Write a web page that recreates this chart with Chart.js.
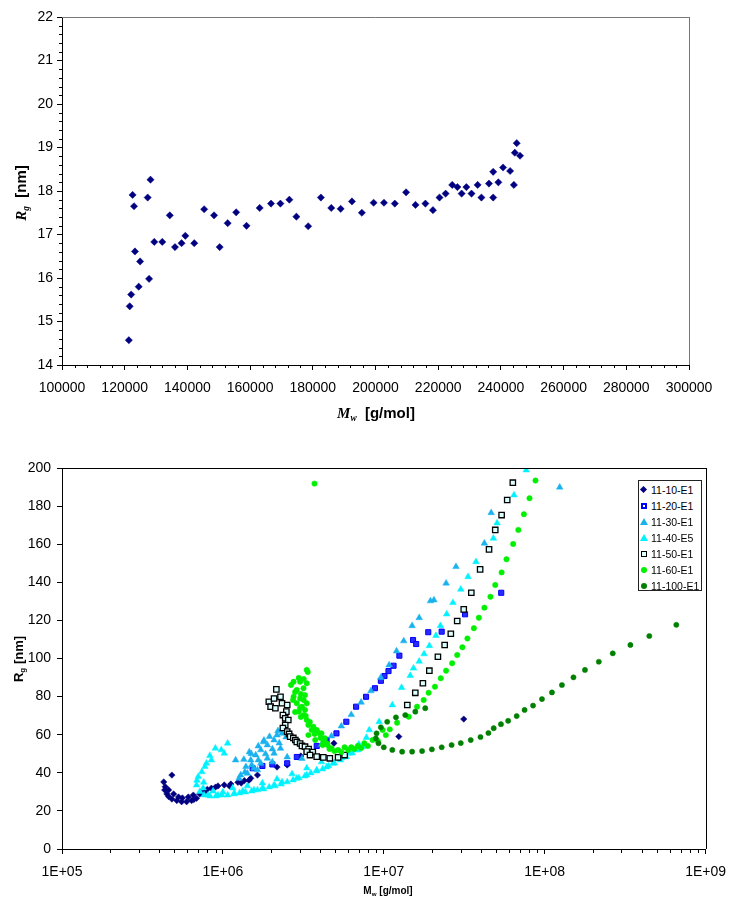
<!DOCTYPE html>
<html>
<head>
<meta charset="utf-8">
<script src="https://cdn.jsdelivr.net/npm/chart.js@4.4.0/dist/chart.umd.min.js"></script>
<style>
  body { margin: 0; background: #fff; }
  #page { position: relative; width: 736px; height: 898px; font-family: 'Liberation Sans', Arial, sans-serif; color: #000; }
  #page canvas { position: absolute; left: 0; }
  .ttl { position: absolute; white-space: nowrap; font-weight: bold; transform: translate(-50%, -50%); }
  .ttl.rot { transform: translate(-50%, -50%) rotate(-90deg); }
  .it { font-family: 'Liberation Serif', 'Times New Roman', serif; font-style: italic; }
  .ttl sub { font-size: 62%; vertical-align: -0.35em; line-height: 0; }
  #legend { position: absolute; left: 638px; top: 480px; width: 64px; height: 111px; box-sizing: border-box;
            border: 1px solid #222; background: #fff; font-size: 10.5px; }
  #legend .row { position: absolute; left: 0; height: 16px; line-height: 16px; padding-left: 12px; white-space: nowrap; }
  #legend .mk { position: absolute; display: block; }
  .dia { left: 2px; top: 5px; width: 5px; height: 5px; background: #000080; transform: rotate(45deg); }
  .sqb { left: 2px; top: 5px; width: 2px; height: 2px; border: 2px solid #0000ff; background: #fff; }
  .tri { left: 1px; top: 4px; width: 0; height: 0; border-left: 4px solid transparent; border-right: 4px solid transparent; }
  .sqo { left: 2px; top: 5px; width: 4px; height: 4px; border: 1.5px solid #000; background: #e0ffff; }
  .dot { left: 2px; top: 5px; width: 6px; height: 6px; border-radius: 50%; }
</style>
</head>
<body>
<div id="page">
  <canvas id="topChart" width="736" height="430" style="top:0"></canvas>
  <canvas id="bottomChart" width="736" height="468" style="top:430px"></canvas>

  <div class="ttl rot" style="left:21px; top:193px; font-size:15px;"><span class="it">R</span><sub class="it">g</sub>&nbsp;&nbsp;[nm]</div>
  <div class="ttl" style="left:376px; top:413px; font-size:15px;"><span class="it">M</span><sub class="it">w</sub>&nbsp;&nbsp;[g/mol]</div>
  <div class="ttl rot" style="left:18px; top:659px; font-size:13px;">R<sub>g</sub> [nm]</div>
  <div class="ttl" style="left:388px; top:890px; font-size:10px;">M<sub>w</sub> [g/mol]</div>

  <div id="legend"></div>
</div>

<script>
// ---- Gráfico superior: Rg frente a Mw ----
const topMw = [121321, 121600, 122070, 122520, 122970, 123270, 124470, 124920, 127330, 127780,
  128230, 129430, 131980, 134380, 136040, 138140, 139340, 142190, 145350, 148500,
  150300, 152850, 155560, 158860, 163060, 166670, 169670, 172520, 174770, 178530,
  182580, 185890, 188890, 192490, 195650, 199400, 202700, 206160, 209760, 212760,
  215920, 218320, 220420, 222370, 224470, 226130, 227480, 228980, 230630, 232580,
  233780, 236190, 237540, 237540, 239190, 240690, 242940, 244140, 244440, 245050, 246100];
const topRg = [14.57, 15.35, 15.62, 17.91, 17.65, 16.61, 15.80, 16.38, 17.85, 15.98,
  18.26, 16.83, 16.83, 17.44, 16.71, 16.80, 16.97, 16.80, 17.58, 17.44,
  16.71, 17.26, 17.51, 17.20, 17.61, 17.71, 17.71, 17.80, 17.41, 17.19,
  17.85, 17.61, 17.59, 17.76, 17.50, 17.73, 17.73, 17.71, 17.97, 17.68,
  17.71, 17.56, 17.85, 17.94, 18.14, 18.09, 17.94, 18.09, 17.94, 18.14,
  17.85, 18.17, 17.85, 18.44, 18.20, 18.54, 18.46, 18.14, 18.88, 19.10, 18.81];
const topXTicks = [100000, 120000, 140000, 160000, 180000, 200000, 220000, 240000, 260000, 280000, 300000];
const topYTicks = [14, 15, 16, 17, 18, 19, 20, 21, 22];

// ---- Gráfico inferior: series [Mw, Rg] ----
const s11_10 = [[4.82e5,38.8],[4.29e5,35.2],[4.38e5,32.7],[4.35e5,31.0],[4.60e5,31.0],[4.49e5,28.9],[4.94e5,28.9],
  [4.60e5,27.5],[4.82e5,26.2],[5.30e5,27.3],[5.17e5,25.4],[5.54e5,24.8],[5.60e5,26.8],[5.95e5,24.8],[6.10e5,27.3],
  [6.39e5,25.4],[6.60e5,26.0],[6.55e5,28.3],[6.86e5,26.6],[7.19e5,28.9],[7.40e5,29.5],[7.73e5,30.1],[8.00e5,31.3],
  [8.48e5,31.9],[9.00e5,32.5],[9.32e5,33.1],[1.02e6,33.6],[1.10e6,33.0],[1.12e6,34.1],[1.24e6,35.0],[1.30e6,34.6],
  [1.36e6,35.9],[1.45e6,36.0],[1.49e6,37.1],[1.64e6,38.8],[2.17e6,43.0],[2.51e6,44.1],[3.05e6,48.8],
  [4.90e6,55.5],[1.24e7,59.0],[3.14e7,68.2]];
const s11_20 = [[1.53e6,42.4],[1.76e6,43.6],[2.03e6,44.4],[2.51e6,45.0],[2.88e6,48.3],[3.32e6,51.1],[3.83e6,54.1],
  [4.41e6,57.2],[5.08e6,60.7],[5.85e6,66.8],[6.73e6,74.7],[7.76e6,79.9],[8.81e6,84.4],[9.59e6,88.3],[1.01e7,90.8],
  [1.07e7,93.4],[1.15e7,96.2],[1.25e7,101.5],[1.52e7,109.7],[1.59e7,107.6],[1.89e7,113.8],[2.29e7,114.1],
  [3.20e7,123.2],[5.37e7,134.5]];
const s11_30 = [[1.26e6,37.1],[1.29e6,38.8],[1.42e6,39.7],[1.37e6,40.4],[1.39e6,43.2],[1.35e6,47.0],[1.20e6,46.7],
  [1.56e6,42.4],[1.51e6,44.1],[1.49e6,46.7],[1.50e6,50.0],[1.46e6,50.9],[1.64e6,41.5],[1.72e6,45.0],[1.66e6,46.7],
  [1.60e6,49.3],[1.66e6,54.0],[1.72e6,52.0],[1.84e6,49.9],[1.89e6,47.6],[1.80e6,57.0],[1.79e6,56.2],[1.89e6,54.6],
  [2.03e6,45.7],[2.03e6,52.5],[2.08e6,50.2],[1.95e6,59.0],[2.08e6,57.2],[2.17e6,59.8],[2.24e6,55.6],[2.28e6,52.8],
  [2.20e6,62.0],[2.33e6,60.7],[2.47e6,58.8],[2.51e6,48.3],[3.10e6,47.5],[3.56e6,50.5],[4.10e6,54.8],[4.73e6,59.3],
  [5.45e6,64.5],[6.28e6,70.5],[7.23e6,77.0],[8.32e6,83.0],[9.59e6,90.0],[1.08e7,96.6],[1.20e7,103.9],[1.33e7,109.2],
  [1.50e7,117.2],[1.66e7,121.4],[1.95e7,130.2],[2.05e7,130.7],[2.44e7,139.5],[2.81e7,148.2],[4.22e7,160.5],
  [4.65e7,176.5],[1.24e8,189.9]];
const s11_40 = [[8.98e5,52.9],[9.77e5,52.0],[1.07e6,55.5],[1.02e6,50.2],[8.48e5,46.7],[8.30e5,49.0],[7.90e5,45.0],
  [7.73e5,43.2],[7.40e5,40.5],[7.03e5,38.0],[6.90e5,36.0],[6.86e5,33.6],[7.60e5,35.0],[7.19e5,30.1],[7.54e5,32.0],
  [7.64e5,28.3],[8.09e5,28.3],[8.32e5,27.8],[8.69e5,30.4],[9.05e5,27.8],[9.32e5,28.3],[9.86e5,28.3],[1.00e6,29.9],
  [1.07e6,28.3],[1.15e6,32.0],[1.17e6,28.9],[1.18e6,29.2],[1.27e6,29.4],[1.33e6,30.4],[1.38e6,29.9],[1.42e6,33.1],
  [1.51e6,30.4],[1.56e6,31.0],[1.64e6,31.0],[1.76e6,32.0],[1.76e6,34.6],[1.79e6,31.5],[1.94e6,32.5],[2.08e6,33.6],
  [2.11e6,33.1],[2.17e6,36.7],[2.30e6,34.1],[2.33e6,35.2],[2.51e6,35.2],[2.69e6,39.4],[2.73e6,36.2],[2.88e6,37.1],
  [2.97e6,37.3],[3.23e6,38.3],[3.32e6,38.8],[3.32e6,42.5],[3.52e6,39.9],[3.83e6,41.5],[3.83e6,40.9],[4.10e6,45.7],
  [4.17e6,42.0],[4.41e6,43.0],[4.53e6,43.6],[4.84e6,45.0],[4.93e6,45.1],[5.37e6,46.7],[5.45e6,47.8],[5.85e6,48.3],
  [6.12e6,50.2],[6.37e6,50.4],[6.73e6,52.0],[6.93e6,52.0],[7.00e6,55.0],[7.40e6,53.7],[7.54e6,54.1],[7.80e6,58.5],
  [8.13e6,62.5],[9.36e6,66.8],[1.13e7,75.6],[1.29e7,84.7],[1.46e7,91.0],[1.53e7,94.9],[1.66e7,98.5],[1.78e7,102.4],
  [1.92e7,106.7],[2.11e7,112.0],[2.25e7,117.2],[2.46e7,123.3],[2.69e7,129.3],[3.01e7,136.3],[3.34e7,142.9],
  [3.74e7,150.8],[4.80e7,163.1],[5.06e7,171.1],[6.45e7,185.8],[7.68e7,198.9]];
const s11_50 = [[2.15e6,83.8],[1.93e6,77.3],[2.08e6,79.0],[2.28e6,79.9],[1.98e6,74.7],[2.12e6,73.9],[2.33e6,76.5],
  [2.51e6,75.6],[2.48e6,72.1],[2.36e6,70.3],[2.44e6,68.6],[2.55e6,67.7],[2.44e6,65.1],[2.36e6,63.5],[2.51e6,61.6],
  [2.58e6,60.4],[2.62e6,59.0],[2.74e6,58.3],[2.82e6,57.2],[2.88e6,56.2],[3.02e6,55.4],[3.10e6,54.1],[3.24e6,53.7],
  [3.41e6,52.5],[3.32e6,51.1],[3.62e6,50.9],[3.48e6,49.3],[3.83e6,48.5],[4.21e6,48.1],[4.62e6,47.6],[5.20e6,48.1],
  [5.71e6,49.3],[1.40e7,75.6],[1.57e7,82.0],[1.75e7,87.0],[1.92e7,93.6],[2.17e7,100.9],[2.39e7,107.1],
  [2.61e7,113.0],[2.86e7,119.7],[3.14e7,125.8],[3.50e7,134.5],[3.97e7,146.8],[4.51e7,157.3],[4.93e7,167.5],
  [5.40e7,175.3],[5.85e7,183.2],[6.34e7,192.3]];
const s11_60 = [[3.71e6,191.8],[3.32e6,94.0],[3.37e6,92.9],[2.96e6,89.8],[3.18e6,89.2],[2.75e6,87.8],[3.02e6,87.8],
  [3.32e6,87.0],[2.65e6,86.1],[2.88e6,83.5],[3.17e6,84.4],[2.81e6,82.4],[3.05e6,81.4],[2.75e6,79.9],[3.02e6,79.0],
  [3.24e6,80.8],[2.73e6,78.2],[3.18e6,78.2],[2.88e6,76.5],[3.10e6,74.7],[3.32e6,76.5],[3.02e6,74.0],[3.24e6,73.0],
  [2.96e6,72.1],[2.81e6,71.9],[3.17e6,70.3],[3.05e6,69.3],[3.27e6,69.8],[3.32e6,67.7],[3.47e6,66.7],[3.40e6,65.1],
  [3.65e6,64.2],[3.83e6,62.5],[3.56e6,62.5],[3.72e6,60.4],[3.94e6,60.9],[3.40e6,59.8],[4.10e6,60.7],[3.75e6,57.2],
  [4.05e6,58.3],[4.30e6,58.1],[4.22e6,56.2],[4.17e6,54.6],[4.41e6,55.5],[4.47e6,54.6],[4.60e6,52.5],[4.73e6,52.9],
  [4.94e6,51.4],[5.20e6,52.0],[5.45e6,50.9],[5.71e6,53.4],[6.01e6,52.0],[6.28e6,53.4],[6.55e6,52.5],[6.90e6,54.1],
  [7.23e6,53.0],[7.57e6,55.5],[7.97e6,54.1],[8.52e6,57.2],[9.19e6,56.7],[9.83e6,62.5],[1.03e7,59.8],[1.09e7,62.8],
  [1.21e7,66.3],[1.43e7,69.4],[1.61e7,74.7],[1.77e7,78.2],[1.90e7,82.0],[2.08e7,85.2],[2.26e7,89.6],[2.44e7,93.6],
  [2.66e7,97.5],[2.86e7,101.8],[3.08e7,105.9],[3.31e7,110.5],[3.63e7,115.9],[3.90e7,121.4],[4.22e7,126.7],
  [4.60e7,132.4],[4.93e7,138.6],[5.40e7,145.2],[5.79e7,152.1],[6.37e7,160.1],[6.86e7,167.5],[7.43e7,175.7],
  [8.05e7,184.1],[8.77e7,193.4]];
const s11_100 = [[1.81e7,73.9],[1.57e7,72.1],[1.36e7,70.3],[1.19e7,69.1],[1.05e7,66.8],[9.59e6,63.9],[9.02e6,60.7],
  [8.93e6,58.1],[9.27e6,55.5],[1.00e7,53.4],[1.13e7,52.0],[1.30e7,51.1],[1.50e7,51.1],[1.73e7,51.4],[1.99e7,52.3],
  [2.29e7,53.4],[2.64e7,54.6],[3.01e7,55.6],[3.47e7,57.2],[3.99e7,58.8],[4.47e7,60.9],[4.82e7,63.4],[5.35e7,65.5],
  [5.93e7,67.3],[6.70e7,69.8],[7.50e7,73.0],[8.47e7,75.3],[9.62e7,78.7],[1.11e8,82.2],[1.28e8,86.1],[1.51e8,90.1],
  [1.78e8,94.0],[2.17e8,98.3],[2.65e8,102.7],[3.41e8,107.1],[4.47e8,111.8],[6.58e8,117.7]];

const seriesNames = ['11-10-E1', '11-20-E1', '11-30-E1', '11-40-E5', '11-50-E1', '11-60-E1', '11-100-E1'];
const seriesData = [s11_10, s11_20, s11_30, s11_40, s11_50, s11_60, s11_100];
const bottomXTicks = [1e5, 1e6, 1e7, 1e8, 1e9];
const bottomXLabels = ['1E+05', '1E+06', '1E+07', '1E+08', '1E+09'];
const bottomYTicks = [0, 20, 40, 60, 80, 100, 120, 140, 160, 180, 200];

// estilos de marcador por serie
const seriesStyle = [
  { pointStyle: 'rectRot', radius: 3.2, backgroundColor: '#000080', borderColor: '#000080', borderWidth: 0.5, mk: 'dia' },
  { pointStyle: 'rect', radius: 3.6, backgroundColor: '#2a2aff', borderColor: '#0000ff', borderWidth: 1, mk: 'sqb' },
  { pointStyle: 'triangle', radius: 3.8, backgroundColor: '#1ab2ee', borderColor: '#1ab2ee', borderWidth: 0.5, mk: 'tri', c: '#1ab2ee' },
  { pointStyle: 'triangle', radius: 3.8, backgroundColor: '#00f2ff', borderColor: '#00f2ff', borderWidth: 0.5, mk: 'tri', c: '#00f2ff' },
  { pointStyle: 'rect', radius: 3.8, backgroundColor: '#dcffff', borderColor: '#000000', borderWidth: 1.3, mk: 'sqo' },
  { pointStyle: 'circle', radius: 2.7, backgroundColor: '#00f000', borderColor: '#00f000', borderWidth: 0.5, mk: 'dot', c: '#00f000' },
  { pointStyle: 'circle', radius: 2.6, backgroundColor: '#008000', borderColor: '#008000', borderWidth: 0.5, mk: 'dot', c: '#008000' }
];

Chart.defaults.font.family = "'Liberation Sans', Arial, sans-serif";
Chart.defaults.font.size = 14;
Chart.defaults.color = '#000';

// Marco del área de trazado y marcas menores
const axisDecor = {
  id: 'axisDecor',
  afterDraw(chart, args, opts) {
    const { ctx, chartArea: a, scales } = chart;
    ctx.save();
    ctx.lineWidth = 1;
    ctx.strokeStyle = opts.frameColor;
    ctx.beginPath();
    ctx.moveTo(a.left, Math.round(a.top) + 0.5);
    ctx.lineTo(a.right + 0.5, Math.round(a.top) + 0.5);
    ctx.moveTo(Math.round(a.right) + 0.5, a.top);
    ctx.lineTo(Math.round(a.right) + 0.5, a.bottom);
    ctx.stroke();

    ctx.strokeStyle = '#000';
    ctx.beginPath();
    (opts.xMinor || []).forEach(v => {
      const x = Math.round(scales.x.getPixelForValue(v)) + 0.5;
      ctx.moveTo(x, a.bottom);
      ctx.lineTo(x, a.bottom + opts.minorLen);
    });
    (opts.yMinor || []).forEach(v => {
      const y = Math.round(scales.y.getPixelForValue(v)) + 0.5;
      ctx.moveTo(a.left, y);
      ctx.lineTo(a.left - opts.minorLen, y);
    });
    ctx.stroke();
    ctx.restore();
  }
};

function minorLinear(min, max, step, majorStep) {
  const out = [];
  for (let v = min; v <= max + 1e-9; v += step) {
    const r = (v - min) / majorStep;
    if (Math.abs(r - Math.round(r)) > 1e-6) out.push(v);
  }
  return out;
}

function minorLog(fromExp, toExp) {
  const out = [];
  for (let e = fromExp; e < toExp; e++) {
    for (let m = 2; m <= 9; m++) out.push(m * Math.pow(10, e));
  }
  return out;
}

// ---- Gráfico superior ----
new Chart(document.getElementById('topChart'), {
  type: 'scatter',
  data: {
    datasets: [{
      label: 'Rg',
      data: topMw.map((m, i) => ({ x: m, y: topRg[i] })),
      pointStyle: 'rectRot',
      pointRadius: 3.6,
      backgroundColor: '#000080',
      borderColor: '#000080',
      borderWidth: 0.5
    }]
  },
  options: {
    responsive: false,
    animation: false,
    layout: { padding: { top: 17, right: 47, left: 0, bottom: 0 } },
    plugins: {
      legend: { display: false },
      tooltip: { enabled: false },
      axisDecor: {
        frameColor: '#777',
        minorLen: 3,
        xMinor: minorLinear(100000, 300000, 4000, 20000),
        yMinor: minorLinear(14, 22, 0.2, 1)
      }
    },
    scales: {
      x: {
        type: 'linear',
        min: 100000,
        max: 300000,
        afterBuildTicks: s => { s.ticks = topXTicks.map(v => ({ value: v })); },
        afterFit: s => { s.height = 65; },
        ticks: { padding: 10, maxRotation: 0, autoSkip: false, callback: v => String(v) },
        grid: { drawOnChartArea: false, color: '#000', tickLength: 5 },
        border: { color: '#000', width: 1 }
      },
      y: {
        min: 14,
        max: 22,
        afterBuildTicks: s => { s.ticks = topYTicks.map(v => ({ value: v })); },
        afterFit: s => { s.width = 62; },
        ticks: { padding: 4, callback: v => String(v) },
        grid: { drawOnChartArea: false, color: '#000', tickLength: 5 },
        border: { color: '#000', width: 1 }
      }
    }
  },
  plugins: [axisDecor]
});

// ---- Gráfico inferior ----
new Chart(document.getElementById('bottomChart'), {
  type: 'scatter',
  data: {
    datasets: seriesData.map((pts, i) => {
      const st = seriesStyle[i];
      return {
        label: seriesNames[i],
        data: pts.map(p => ({ x: p[0], y: p[1] })),
        pointStyle: st.pointStyle,
        pointRadius: st.radius,
        backgroundColor: st.backgroundColor,
        borderColor: st.borderColor,
        borderWidth: st.borderWidth,
        order: -i
      };
    })
  },
  options: {
    responsive: false,
    animation: false,
    layout: { padding: { top: 38, right: 22, left: 0, bottom: 0 } },
    plugins: {
      legend: { display: false },
      tooltip: { enabled: false },
      axisDecor: {
        frameColor: '#000',
        minorLen: 4,
        xMinor: minorLog(5, 9)
      }
    },
    scales: {
      x: {
        type: 'logarithmic',
        min: 1e5,
        max: 1e9,
        afterBuildTicks: s => { s.ticks = bottomXTicks.map(v => ({ value: v })); },
        afterFit: s => { s.height = 49; },
        ticks: {
          padding: 10,
          maxRotation: 0,
          autoSkip: false,
          callback: v => bottomXLabels[bottomXTicks.indexOf(v)]
        },
        grid: { drawOnChartArea: false, color: '#000', tickLength: 5 },
        border: { color: '#000', width: 1 }
      },
      y: {
        min: 0,
        max: 200,
        afterBuildTicks: s => { s.ticks = bottomYTicks.map(v => ({ value: v })); },
        afterFit: s => { s.width = 62; },
        ticks: { padding: 6, callback: v => String(v) },
        grid: { drawOnChartArea: false, color: '#000', tickLength: 5 },
        border: { color: '#000', width: 1 }
      }
    }
  },
  plugins: [axisDecor]
});

// Leyenda dentro del área de trazado
const legendBox = document.getElementById('legend');
seriesNames.forEach((name, i) => {
  const st = seriesStyle[i];
  const row = document.createElement('div');
  row.className = 'row';
  row.style.top = (1 + 16 * i) + 'px';
  const mk = document.createElement('span');
  mk.className = 'mk ' + st.mk;
  if (st.mk === 'tri') mk.style.borderBottom = '7px solid ' + st.c;
  if (st.mk === 'dot') mk.style.background = st.c;
  row.appendChild(mk);
  row.appendChild(document.createTextNode(name));
  legendBox.appendChild(row);
});
</script>
</body>
</html>
